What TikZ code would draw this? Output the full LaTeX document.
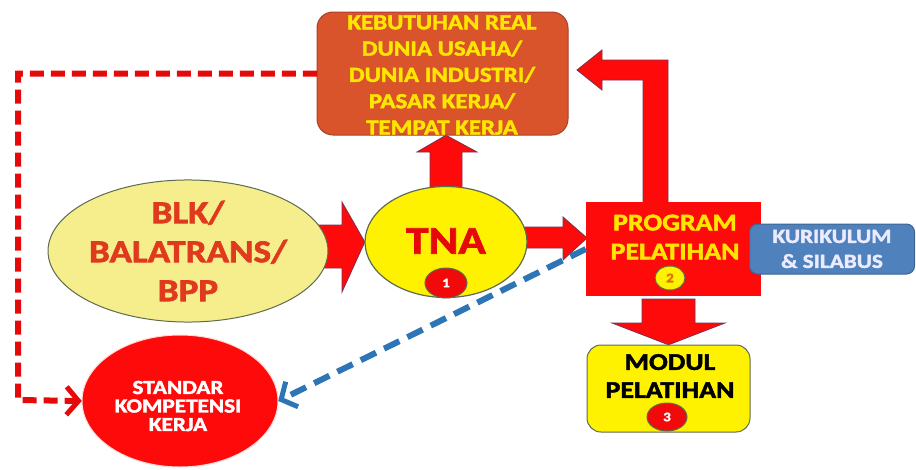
\documentclass[tikz,border=0pt]{standalone}
\usepackage{fontspec}
\setmainfont{Carlito}[FakeStretch=1.16, BoldFeatures={FakeBold=2}]
\usetikzlibrary{shapes.geometric,arrows.meta}
\definecolor{kbfill}{HTML}{D9532B}
\definecolor{kbedge}{HTML}{A8402A}
\definecolor{ytext}{HTML}{FFE600}
\definecolor{bred}{HTML}{FF0A0A}
\definecolor{arrowedge}{HTML}{7A3050}
\definecolor{blkfill}{HTML}{F6EE8C}
\definecolor{olive}{HTML}{5E6B4E}
\definecolor{blktext}{HTML}{E03A1E}
\definecolor{kurfill}{HTML}{4F81BD}
\definecolor{kuredge}{HTML}{3C6594}
\definecolor{dblue}{HTML}{2E75B6}
\definecolor{badgeorange}{HTML}{E07000}
\tikzset{
  blockarrow/.style={fill=bred, draw=arrowedge, line width=0.8pt, line join=miter},
  badge/.style={ellipse, inner sep=0pt, line width=1pt, font=\bfseries\fontsize{13}{13}\selectfont},
  txt/.style={align=center, font=\bfseries}
}
\begin{document}
\begin{tikzpicture}[x=1pt,y=-1pt]
\useasboundingbox (0,0) rectangle (916,469);
% node outlines (named positions)
\node[ellipse, minimum width=233, minimum height=122, inner sep=0pt] (blk) at (188,251) {};
\node[ellipse, minimum width=162, minimum height=111, inner sep=0pt] (tna) at (446,242) {};
\node[rounded corners=16, minimum width=251, minimum height=123, inner sep=0pt] (kb) at (442.5,73.5) {};
\node[minimum width=175, minimum height=94, inner sep=0pt] (prog) at (673.5,249) {};
\node[rounded corners=14, minimum width=163, minimum height=87, inner sep=0pt] (modul) at (668.5,388.5) {};
\node[ellipse, minimum width=196, minimum height=132, inner sep=0pt] (skk) at (180,401) {};

% block arrows (behind shapes)
% BLK -> TNA
\draw[blockarrow] (300,225) -- (342,225) -- (342,202) -- (tna.west) -- (342,292) -- (342,268) -- (300,268) -- cycle;
% TNA -> KB
\draw[blockarrow] (430,192) -- (430,152) -- (417,152) -- (tna.north |- kb.south) -- (477,152) -- (462,152) -- (462,192) -- cycle;
% TNA -> PROG
\draw[blockarrow] (520,227) -- (563,227) -- (563,217) -- (587,238) -- (563,260) -- (563,248) -- (520,248) -- cycle;
% PROG -> KB (L shape)
\draw[blockarrow] (643,203) -- (643,80) -- (602,80) -- (602,90) -- (577,70) -- (602,50) -- (602,60) -- (668,60) -- (668,203) -- cycle;
% PROG -> MODUL
\draw[blockarrow] (642,299) -- (642,323) -- (612,323) -- (modul.north) -- (725,323) -- (695,323) -- (695,299) -- cycle;

% shapes
\node[rounded corners=16, minimum width=251, minimum height=123, inner sep=0pt, fill=kbfill, draw=kbedge, line width=1pt] (kbbox) at (kb) {};
\node[txt, text=ytext, font=\bfseries\fontsize{21.5}{26.3}\selectfont, inner sep=0pt] (kbt) at (442,75) {KEBUTUHAN REAL\\DUNIA USAHA/\\DUNIA INDUSTRI/\\PASAR KERJA/\\TEMPAT KERJA};
\node[ellipse, minimum width=233, minimum height=122, inner sep=0pt, fill=blkfill, draw=olive, line width=1pt, txt, text=blktext, font=\bfseries\fontsize{32}{39}\selectfont] (blkt) at (blk) {BLK/\\BALATRANS/\\BPP};
\node[ellipse, minimum width=162, minimum height=111, inner sep=0pt, fill=yellow, draw=olive, line width=1.2pt, text=bred!90!black, font=\bfseries\fontsize{39}{39}\selectfont] (tnat) at (tna) {\raisebox{2pt}{TNA}};
\node[badge, minimum width=42, minimum height=30, fill=bred!95!black, draw=olive, text=white] (b1) at (446,283) {1};
\node[minimum width=175, minimum height=94, inner sep=0pt, fill=bred] (progt) at (prog) {};
\node[txt, text=ytext, font=\bfseries\fontsize{24}{29}\selectfont, inner sep=0pt] (progl) at (675,237) {PROGRAM\\PELATIHAN};
\node[badge, minimum width=30, minimum height=24, fill=yellow, draw=olive, text=badgeorange] (b2) at (670,278) {2};
\node[rounded corners=8, minimum width=165, minimum height=50, inner sep=0pt, fill=kurfill, draw=kuredge, line width=1pt, txt, text=white!92!blue, font=\bfseries\fontsize{20}{25}\selectfont] (kur) at (832,249) {KURIKULUM\\\& SILABUS};
\node[rounded corners=14, minimum width=163, minimum height=87, inner sep=0pt, fill=yellow, draw=olive, line width=1pt] (modulbox) at (modul) {};
\node[txt, text=black, font=\bfseries\fontsize{24}{28}\selectfont, inner sep=0pt] (modull) at (670,376) {MODUL\\PELATIHAN};
\node[badge, minimum width=40, minimum height=28, fill=bred!95!black, draw=olive, text=white] (b3) at (667,417) {3};
\node[ellipse, minimum width=196, minimum height=132, inner sep=0pt, fill=bred, draw=white!85!red, line width=1pt] (skkbox) at (skk) {};
\node[txt, text=white, font=\bfseries\fontsize{20}{18.5}\selectfont, inner sep=0pt] (skkl) at (178,406) {STANDAR\\KOMPETENSI\\KERJA};

% dashed connectors
\coordinate (rd1) at (18,73.5);
\coordinate (rd2) at (18,400);
\draw[bred!90!black, line width=6pt, dash pattern=on 14pt off 7pt, -{Straight Barb[length=12pt,width=28pt,line width=5pt]}]
  (kb.west) -- (rd1) -- (rd2) -- (skk.west);
\draw[dblue, line width=6pt, dash pattern=on 17pt off 9pt, -{Straight Barb[length=12pt,width=28pt,line width=5pt]}]
  (prog.west) -- (skk.east);
\end{tikzpicture}
\end{document}
